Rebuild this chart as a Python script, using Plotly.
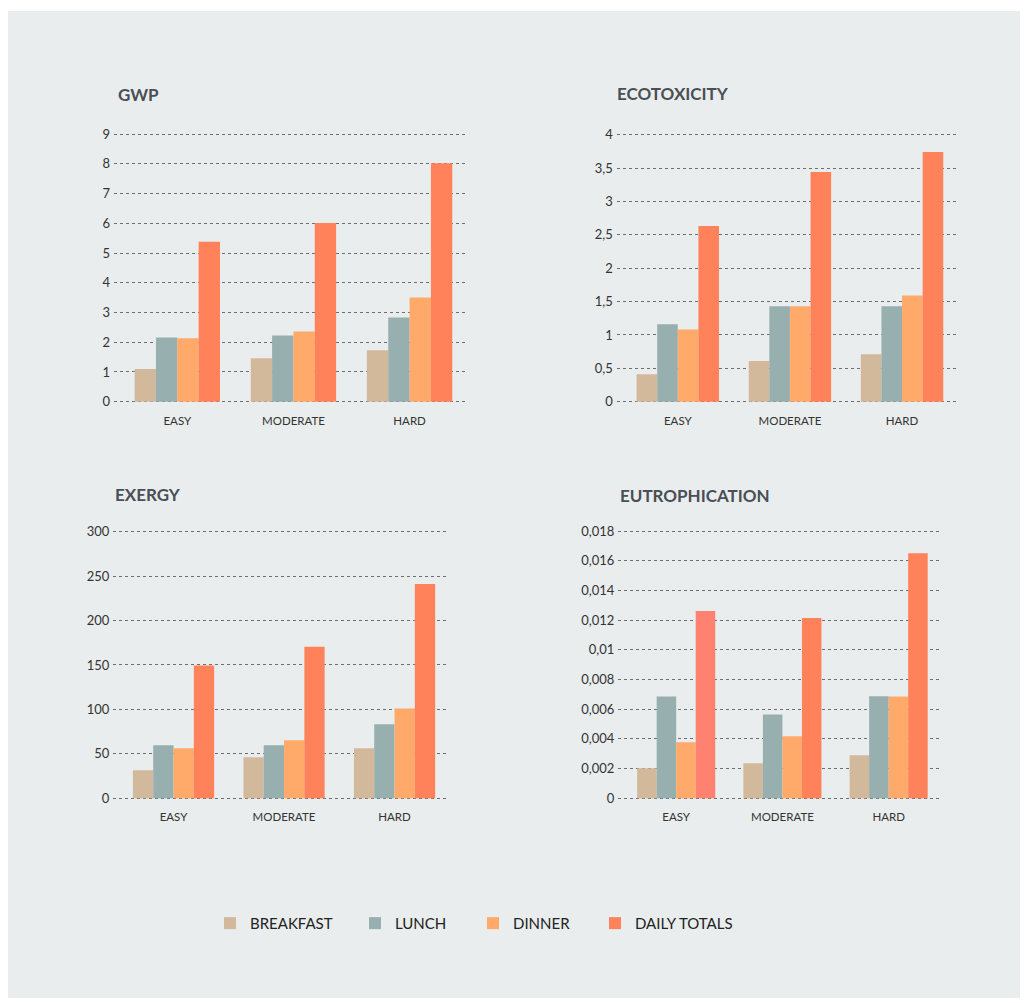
import plotly.graph_objects as go

categories = ["EASY", "MODERATE", "HARD"]
series_names = ["BREAKFAST", "LUNCH", "DINNER", "DAILY TOTALS"]

gwp_breakfast = [1.10, 1.46, 1.73]
gwp_lunch = [2.16, 2.23, 2.83]
gwp_dinner = [2.13, 2.36, 3.50]
gwp_daily = [5.38, 6.01, 8.02]

eco_breakfast = [0.41, 0.61, 0.71]
eco_lunch = [1.16, 1.43, 1.43]
eco_dinner = [1.08, 1.43, 1.59]
eco_daily = [2.63, 3.44, 3.74]

exergy_breakfast = [31.7, 46.3, 56.3]
exergy_lunch = [59.7, 59.7, 83.2]
exergy_dinner = [56.3, 65.3, 101.1]
exergy_daily = [149.3, 170.5, 241.0]

eutro_breakfast = [0.00203, 0.00237, 0.00290]
eutro_lunch = [0.00686, 0.00565, 0.00688]
eutro_dinner = [0.00377, 0.00418, 0.00686]
eutro_daily = [0.01262, 0.01215, 0.01650]

gwp_ticks = [0, 1, 2, 3, 4, 5, 6, 7, 8, 9]
eco_ticks = [0, 0.5, 1, 1.5, 2, 2.5, 3, 3.5, 4]
exergy_ticks = [0, 50, 100, 150, 200, 250, 300]
eutro_ticks = [0, 0.002, 0.004, 0.006, 0.008, 0.01, 0.012, 0.014, 0.016, 0.018]

colors = ["#D2B99C", "#97AFAE", "#FFA96A", "#FF825A"]
eutro_daily_colors = ["#FF8270", "#FF825A", "#FF825A"]

W, H = 1024, 1003
BG = "#E9EDED"
PAD = 0.02  # fraction of the axis top used as padding at both ends
legend_ids = ["legend", "legend2", "legend3", "legend4"]
legend_x_px = [210, 355, 473, 595]


def px_x(p):
    return p / W


def px_y(p):
    return 1 - p / H


panels = [
    dict(title="GWP", data=[gwp_breakfast, gwp_lunch, gwp_dinner, gwp_daily], ticks=gwp_ticks,
         x0=114, x1=466.5, ytop=131.7, ybot=400.7, tx=116, ty=92),
    dict(title="ECOTOXICITY", data=[eco_breakfast, eco_lunch, eco_dinner, eco_daily], ticks=eco_ticks,
         x0=616.7, x1=957, ytop=132.3, ybot=400.7, tx=615, ty=91),
    dict(title="EXERGY", data=[exergy_breakfast, exergy_lunch, exergy_dinner, exergy_daily], ticks=exergy_ticks,
         x0=113.3, x1=448.7, ytop=531.3, ybot=799.3, tx=113, ty=494),
    dict(title="EUTROPHICATION", data=[eutro_breakfast, eutro_lunch, eutro_dinner, eutro_daily], ticks=eutro_ticks,
         x0=618.3, x1=940.7, ytop=530.7, ybot=799.3, tx=618, ty=495),
]

fig = go.Figure()
annotations = []
layout_axes = {}

for i, p in enumerate(panels):
    idx = "" if i == 0 else str(i + 1)
    xa = "x" + idx
    ya = "y" + idx
    for s, (name, vals) in enumerate(zip(series_names, p["data"])):
        col = colors[s]
        if p["title"] == "EUTROPHICATION" and s == 3:
            col = eutro_daily_colors
        fig.add_trace(go.Bar(
            x=categories, y=vals, name=name, marker=dict(color=col, line=dict(width=0)),
            xaxis=xa, yaxis=ya, showlegend=(i == 0), legendgroup=name, legend=legend_ids[s],
        ))
    layout_axes["xaxis" + idx] = dict(
        domain=[px_x(p["x0"]), px_x(p["x1"])], anchor=ya, type="category",
        range=[-0.545, 2.49], showgrid=False, zeroline=False, showline=False,
        ticks="", tickfont=dict(size=11.5, color="#333333", family="Lato"),
        ticklabelstandoff=5,
    )
    top = p["ticks"][-1]
    span_px = p["ybot"] - p["ytop"]
    pad_px = span_px * PAD
    layout_axes["yaxis" + idx] = dict(
        domain=[px_y(p["ybot"] + pad_px), px_y(p["ytop"] - pad_px)], anchor=xa,
        range=[-top * PAD, top * (1 + PAD)], tickvals=p["ticks"], showgrid=True,
        gridcolor="#6e6e6e", griddash="dot", gridwidth=1, zeroline=False,
        showline=False, ticks="", tickfont=dict(size=13, color="#333333", family="Lato"),
        ticklabelstandoff=3,
    )
    annotations.append(dict(
        text="<b>" + p["title"] + "</b>", x=px_x(p["tx"]), y=px_y(p["ty"]), xref="paper", yref="paper",
        xanchor="left", yanchor="middle", showarrow=False,
        font=dict(size=17, color="#4A4E55", family="Lato"),
    ))

legends = {}
for lid, lx in zip(legend_ids, legend_x_px):
    legends[lid] = dict(orientation="h", x=px_x(lx), y=px_y(925), xanchor="left", yanchor="middle",
                        font=dict(size=15, color="#222222", family="Lato"),
                        bgcolor="rgba(0,0,0,0)")

fig.update_layout(
    width=W, height=H, margin=dict(l=0, r=0, t=0, b=0),
    paper_bgcolor="white", plot_bgcolor="rgba(0,0,0,0)",
    bargap=0.265, bargroupgap=0,
    separators=", ",
    annotations=annotations,
    shapes=[dict(type="rect", xref="paper", yref="paper", x0=px_x(8), x1=px_x(1020),
                 y0=px_y(1000), y1=px_y(8), fillcolor=BG, line=dict(width=0), layer="below")],
    font=dict(family="Lato"),
    **legends,
    **layout_axes,
)

fig.write_html("out.html", config={"displayModeBar": False},
               post_script="document.body.style.margin='0';document.body.style.overflow='hidden';")
